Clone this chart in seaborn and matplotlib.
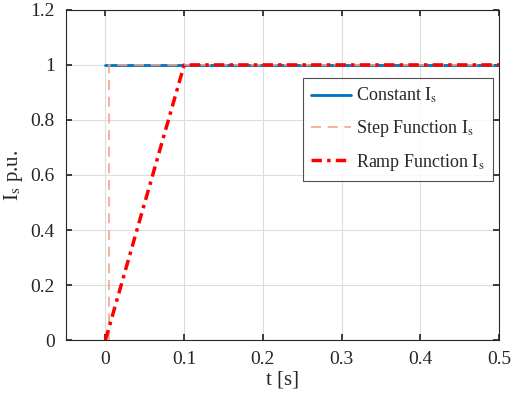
import matplotlib
matplotlib.use("Agg")
import matplotlib.pyplot as plt
import seaborn as sns
import pandas as pd

sns.set_theme(style="white")
plt.rcParams['font.family'] = ['Liberation Serif', 'DejaVu Serif']
plt.rcParams['mathtext.fontset'] = 'stix'

# data
t_const = [0.0, 0.5]
i_const = [1.0, 1.0]
t_step = [0.005, 0.005, 0.5]
i_step = [0.0, 1.0, 1.0]
t_ramp = [0.0, 0.1, 0.5]
i_ramp = [0.0, 1.0, 1.0]
xticks = [0, 0.1, 0.2, 0.3, 0.4, 0.5]
yticks = [0, 0.2, 0.4, 0.6, 0.8, 1, 1.2]

fig = plt.figure(figsize=(5.12, 3.95), dpi=100)
ax = fig.add_axes([0.129, 0.139, 0.846, 0.836])

sns.lineplot(x=t_const, y=i_const, ax=ax, color='#0072BD', lw=2,
             label=r'Constant I$_\mathrm{s}$', sort=False, estimator=None)
sns.lineplot(x=t_step, y=i_step, ax=ax, color='#F4A58A', lw=1.2,
             linestyle=(0, (6, 4)), label=r'Step Function I$_\mathrm{s}$',
             sort=False, estimator=None)
sns.lineplot(x=t_ramp, y=i_ramp, ax=ax, color='#FF0000', lw=2.5,
             linestyle=(0, (3, 1.5, 1, 1.5)), label=r'Ramp Function I$_\mathrm{s}$',
             sort=False, estimator=None)

ax.set_xlim(-0.05, 0.5)
ax.set_ylim(0, 1.2)
ax.set_xticks(xticks)
ax.set_xticklabels([f"{v:g}" for v in xticks])
ax.set_yticks(yticks)
ax.set_yticklabels([f"{v:g}" for v in yticks])
ax.grid(True, color='#dddddd', lw=0.8)
ax.tick_params(direction='in', length=4, labelsize=14, color='#262626',
               top=True, right=True, bottom=True, left=True, pad=8)
for s in ax.spines.values():
    s.set_color('#262626')
    s.set_linewidth(0.8)
ax.set_xlabel('t [s]', fontsize=15, labelpad=2)
ax.set_ylabel(r'I$_\mathrm{s}$ p.u.', fontsize=15, labelpad=4)

leg = ax.legend(loc='upper right', bbox_to_anchor=(0.986, 0.794), fontsize=13,
                frameon=True, fancybox=False, edgecolor='#262626', borderaxespad=0,
                handlelength=2.2, handletextpad=0.3, borderpad=0.45, labelspacing=0.7)
leg.get_frame().set_linewidth(0.8)

fig.savefig('out.png', dpi=100)
